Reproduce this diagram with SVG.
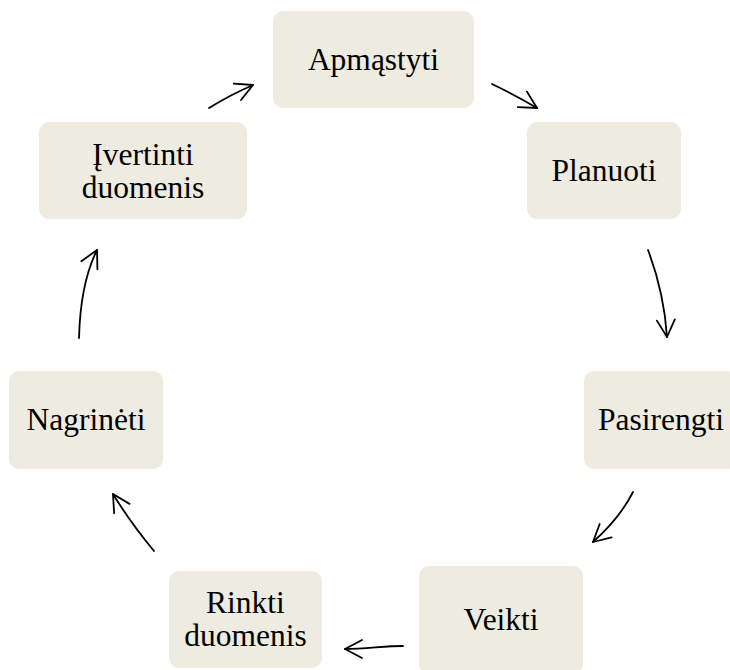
<svg xmlns="http://www.w3.org/2000/svg" width="730" height="670" viewBox="0 0 730 670">
<style>
.box{fill:#EEECE1;}
.lbl{font-family:"Liberation Serif","Times New Roman",serif;font-size:31.5px;fill:#000;text-anchor:middle;}
.arr{fill:none;stroke:#000;stroke-width:1.8;stroke-linecap:round;marker-end:url(#head);}
</style>
<defs>
<marker id="head" markerUnits="userSpaceOnUse" viewBox="-20 -12 24 24" refX="0" refY="0" markerWidth="24" markerHeight="24" orient="auto">
<path d="M-17,-9 L0,0 L-17,9" fill="none" stroke="#000" stroke-width="1.8" stroke-linecap="round" stroke-linejoin="round"/>
</marker>
</defs>
<rect width="730" height="670" fill="#fff"/>
<g id="connectors">
<path class="arr" d="M209,108 Q230,95 253,85"/>
<path class="arr" d="M492,84 Q515,95 537,108"/>
<path class="arr" d="M648,250 Q664,292 667,337"/>
<path class="arr" d="M633,492 C625,508 612,525 593,542"/>
<path class="arr" d="M403,646 C385,646 365,649 345,649"/>
<path class="arr" d="M154,551 Q130,522 113,494"/>
<path class="arr" d="M79,338 C80,300 86,272 97,250"/>
</g>
<g id="apmastyti">
<rect class="box" x="273" y="11" width="201" height="97" rx="10"/>
<text class="lbl" x="373.5" y="70">Apmąstyti</text>
</g>
<g id="planuoti">
<rect class="box" x="527" y="122" width="154" height="97" rx="10"/>
<text class="lbl" x="604" y="181">Planuoti</text>
</g>
<g id="pasirengti">
<rect class="box" x="584" y="371" width="154" height="98" rx="10"/>
<text class="lbl" x="661" y="430">Pasirengti</text>
</g>
<g id="veikti">
<rect class="box" x="419" y="566" width="164" height="108" rx="10"/>
<text class="lbl" x="501" y="630">Veikti</text>
</g>
<g id="rinkti">
<rect class="box" x="169" y="571" width="153" height="97" rx="10"/>
<text class="lbl" x="245.5" y="613">Rinkti</text>
<text class="lbl" x="245.5" y="646">duomenis</text>
</g>
<g id="nagrineti">
<rect class="box" x="9" y="371" width="154" height="98" rx="10"/>
<text class="lbl" x="86" y="430">Nagrinėti</text>
</g>
<g id="ivertinti">
<rect class="box" x="39" y="122" width="208" height="97" rx="10"/>
<text class="lbl" x="143" y="165">Įvertinti</text>
<text class="lbl" x="143" y="197.5">duomenis</text>
</g>
</svg>
